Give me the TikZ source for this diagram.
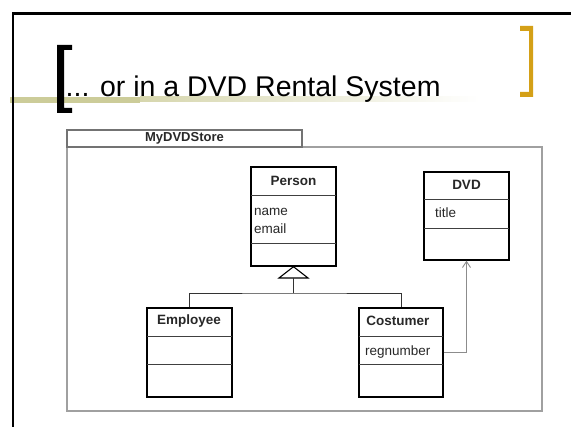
\documentclass[tikz,border=0pt]{standalone}
\usepackage{fontspec}
\setmainfont{Liberation Sans}
\usetikzlibrary{arrows.meta,calc}
\definecolor{gold}{RGB}{212,160,23}
\definecolor{olive}{RGB}{204,204,153}
\definecolor{pkggray}{RGB}{160,160,160}
\definecolor{txt}{RGB}{40,40,40}
\tikzset{
  classbox/.style={draw=black,line width=1.4pt,rectangle,inner sep=0pt},
  divider/.style={draw=black!75,line width=0.9pt},
  cname/.style={font=\fontsize{13.5}{15}\selectfont\bfseries,text=txt,inner sep=0pt},
  attr/.style={font=\fontsize{13.5}{15}\selectfont,text=txt,inner sep=0pt,anchor=west},
  genline/.style={draw=black!80,line width=0.9pt},
  assoc/.style={draw=black!45,line width=0.9pt,-{Straight Barb[length=6pt,width=8pt]}},
}
\begin{document}
\begin{tikzpicture}[x=1pt,y=-1pt]
\useasboundingbox (0,0) rectangle (571,427);
\fill[white] (0,0) rectangle (571,427);
% title bar
\fill[olive] (10,97) rectangle (140,103);
\shade[left color=olive!80,right color=white] (140,97) rectangle (480,102);
% slide border
\draw[line width=2.5pt,black] (13,427) -- (13,13.5) -- (571,13.5);
% brackets
\fill[black] (57,45) -- (72,45) -- (72,50) -- (64,50) -- (64,108) -- (72,108) -- (72,113) -- (57,113) -- cycle;
\fill[gold] (520,26) -- (533,26) -- (533,97) -- (520,97) -- (520,92) -- (529,92) -- (529,31) -- (520,31) -- cycle;
% title
\node[anchor=base west,inner sep=0pt,font=\fontsize{28.5}{30}\selectfont] (title) at (65.5,97) {... or in a DVD Rental System};
% package
\draw[pkggray,line width=1.4pt] (67,147) rectangle (542,411);
\draw[black!55,line width=1.2pt] (67,130) rectangle (302,147);
\node[cname,font=\fontsize{13}{15}\selectfont\bfseries] (pkg) at (184.5,138.5) {MyDVDStore};
% Person
\node[classbox,minimum width=85pt,minimum height=99pt] (person) at (293.5,216.5) {};
\draw[divider] (251,195) -- (336,195);
\draw[divider] (251,243) -- (336,243);
\node[cname] (personn) at (293.5,181) {Person};
\node[attr] (pname) at (254,212) {name};
\node[attr] (pemail) at (254,229) {email};
% DVD
\node[classbox,minimum width=85pt,minimum height=88pt] (dvd) at (466.5,216) {};
\draw[divider] (424,199) -- (509,199);
\draw[divider] (424,228) -- (509,228);
\node[cname] (dvdn) at (466.5,185) {DVD};
\node[attr] (dtitle) at (435,213) {title};
% Employee
\node[classbox,minimum width=85pt,minimum height=89pt] (emp) at (189.5,352.5) {};
\draw[divider] (147,336) -- (232,336);
\draw[divider] (147,364) -- (232,364);
\node[cname] (empn) at (189,321) {Employee};
% Costumer
\node[classbox,minimum width=84pt,minimum height=89pt] (cost) at (401,352.5) {};
\draw[divider] (359,336) -- (443,336);
\draw[divider] (359,364) -- (443,364);
\node[cname] (costn) at (398,321) {Costumer};
\node[attr] (creg) at (365,352) {regnumber};
% generalization
\coordinate (join) at (293.5,293);
\coordinate (tribase) at (293.5,278);
\draw[black,line width=1.1pt,fill=white] (person.south) -- (279,278) -- (308,278) -- cycle;
\draw[genline] (tribase) -- (join);
\draw[genline] (emp.north) |- (join) -| (cost.north);
% association
\draw[assoc] (cost.east) -| (dvd.south);
\end{tikzpicture}
\end{document}
